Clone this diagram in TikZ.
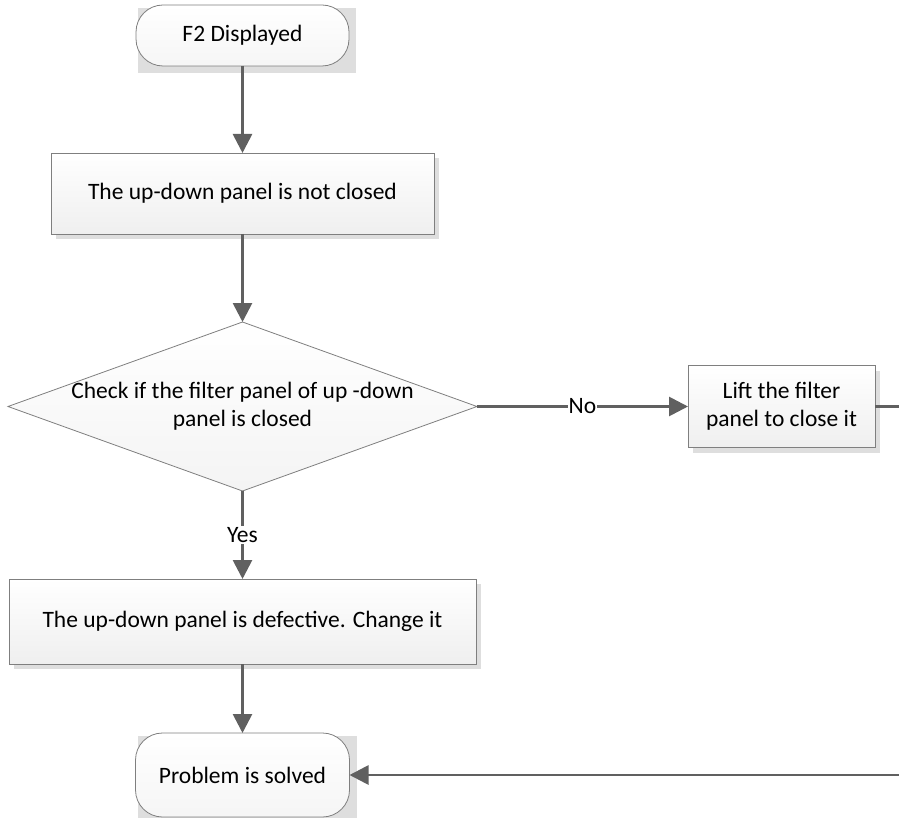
\documentclass[tikz,border=0pt]{standalone}
\usepackage{fontspec}
\setmainfont{Carlito}
\usetikzlibrary{shapes.geometric,arrows.meta,shadows}
\usetikzlibrary{positioning,backgrounds,calc}
\definecolor{LineCol}{HTML}{606060}
\definecolor{EdgeCol}{HTML}{7F7F7F}
\definecolor{ShadeCol}{HTML}{EFEFEF}
\definecolor{ShadowCol}{HTML}{DEDEDE}
\tikzset{
  flow font/.style={
    font=\fontsize{23.5pt}{28pt}\selectfont,
    text=black,
    },
  plain box/.style={
    shape = rectangle,
    draw = EdgeCol,
    line width=.8pt,
    inner sep=0pt,
    outer sep=0pt,
    flow font,
    top color=white,
    bottom color=ShadeCol,
    },
  process box/.style ={
    plain box,
    align=center,
    drop shadow={shadow xshift=5pt,shadow yshift=-5pt,fill=ShadowCol,opacity=1},
    },
  terminal/.style ={
    plain box,
    rounded corners=27pt,
    bottom color=ShadeCol!60,
    minimum width=213pt,
  },
  decision/.style ={
    plain box,
    diamond,
    aspect=2.78,
    align=center,
    inner ysep=-20pt,
    minimum width=469pt,
    minimum height=169pt,
    bottom color=ShadeCol!70,
  },
  flow label/.style={
    flow font,
    fill=white,
    inner sep=1pt,
  },
}
\tikzstyle{Flow} = [-{Triangle[length=19pt,width=19pt]},LineCol,line width=2.75pt]

\begin{document}
\begin{tikzpicture}[x=1pt,y=-1pt]
    \useasboundingbox (0,0) rectangle (899,818);
    \clip (0,0) rectangle (899,818);

    \node[terminal,minimum height=61pt] (start) at (242.5,35.5) {F2 Displayed};

    \node[process box,minimum width=383pt,minimum height=81pt,
        below=87pt of start] (notclosed) {The up-down panel is not closed};

    \node[decision,below=88pt of notclosed] (check)
        {Check if the filter panel of up -down\\panel is closed};

    \node[process box,minimum width=187pt,minimum height=82pt,
        right=211pt of check] (lift) {Lift the filter\\panel to close it};

    \node[process box,minimum width=467pt,minimum height=85pt,
        below=88pt of check] (defect) {The up-down panel is defective. Change it};

    \node[terminal,minimum width=214pt,minimum height=84pt,
        below=69pt of defect] (solved) {Problem is solved};

    % grey backs of the terminals
    \begin{scope}[on background layer]
        \foreach \t in {start,solved}
            \fill[ShadowCol] ($(\t.south west)+(2,7)$) rectangle ($(\t.north east)+(7,3)$);
    \end{scope}

    % Steps

    \draw[Flow] (start) -- (notclosed);
    \draw[Flow] (notclosed) -- (check);
    \draw[Flow] (check) -- node[flow label] {Yes} (defect);
    \draw[Flow] (check) -- node[flow label] {No} (lift);
    \draw[Flow] (defect) -- (solved);

    \draw[Flow] (lift.east) -- ++(40,0) |- (solved.east);

\end{tikzpicture}
\end{document}
